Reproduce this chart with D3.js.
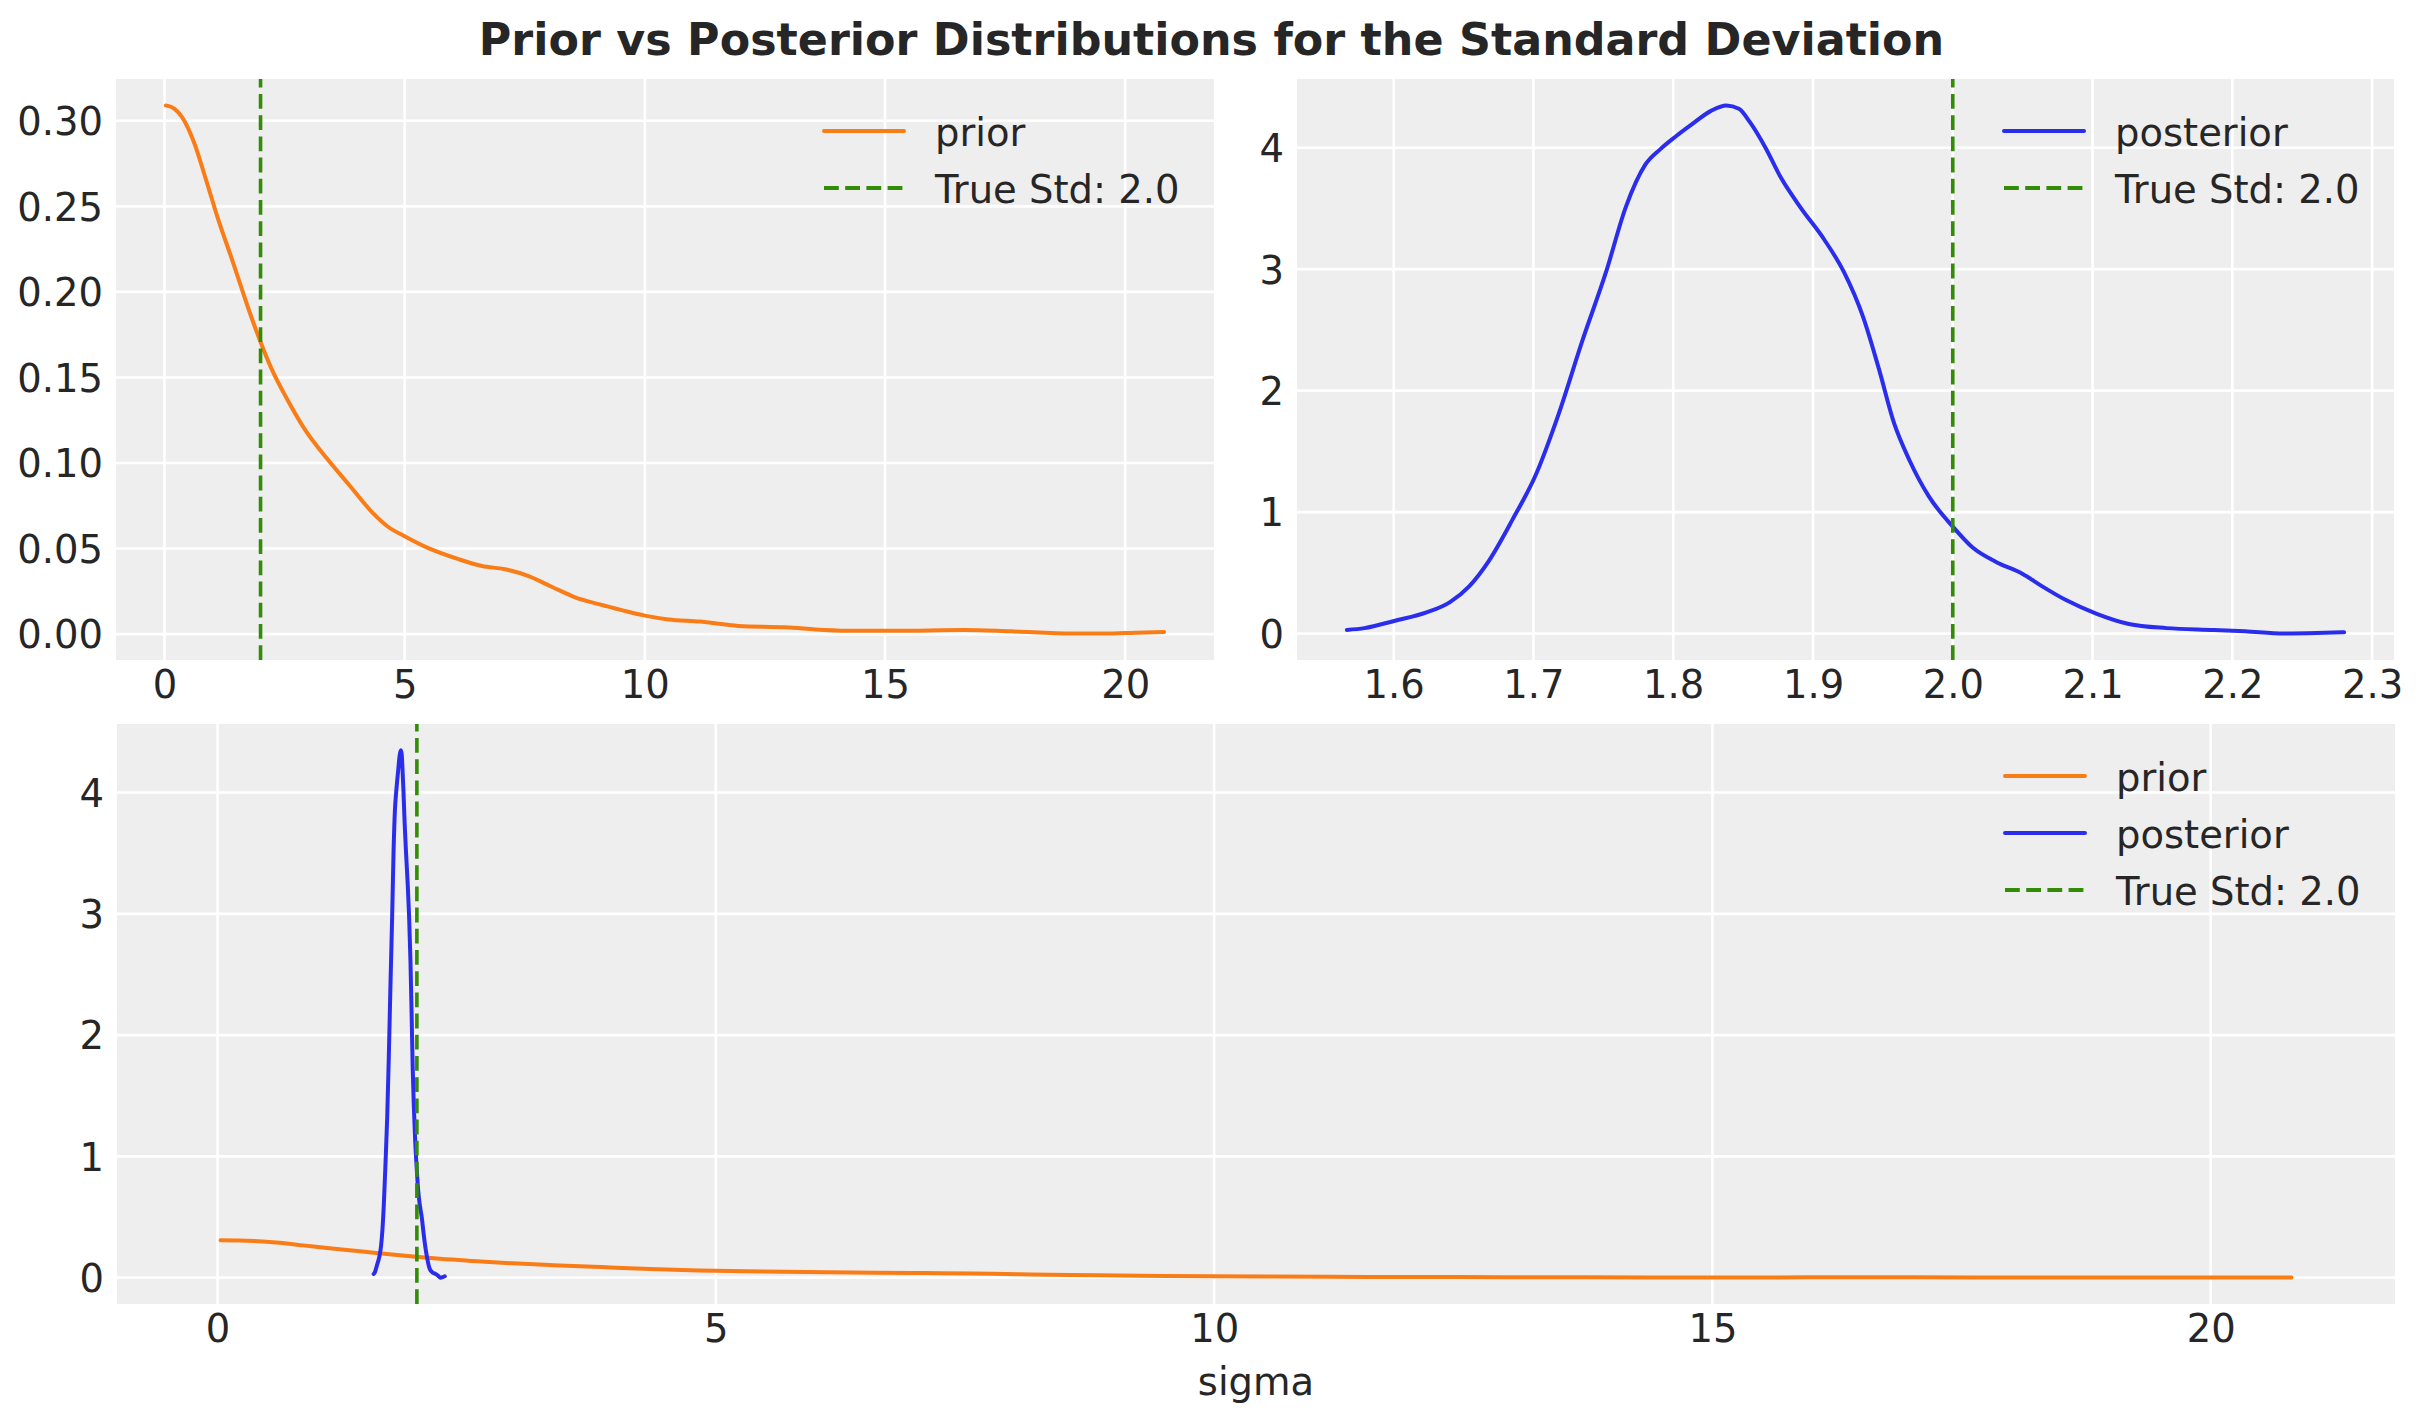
<!DOCTYPE html>
<html>
<head>
<meta charset="utf-8">
<script src="https://cdn.jsdelivr.net/npm/d3@7"></script>
<style>
  body { margin: 0; background: #fff; }
  svg { display: block; font-family: "DejaVu Sans", sans-serif; }
</style>
</head>
<body>
<div id="chart-area"></div>
<script>

// data
let priorX = [0.03, 0.21, 0.37, 0.62, 0.86, 1.1, 1.43, 1.75, 1.99, 2.23, 2.56, 2.96, 3.37, 3.85,
  4.34, 4.66, 4.99, 5.47, 6.12, 6.61, 7.09, 7.58, 8.06, 8.55, 9.04, 9.52, 10.0, 10.49, 11.14,
  11.95, 12.92, 13.73, 14.38, 15.19, 16.65, 17.62, 18.9, 19.56, 20.21, 20.81];
let priorY = [0.309, 0.307, 0.302, 0.287, 0.266, 0.244, 0.217, 0.190, 0.1715, 0.155, 0.137, 0.118,
  0.103, 0.087, 0.0707, 0.0626, 0.0573, 0.0505, 0.0438, 0.0398, 0.0379, 0.0339, 0.0277, 0.0215,
  0.0175, 0.014, 0.0108, 0.0086, 0.0073, 0.0048, 0.004, 0.0024, 0.0019, 0.0019, 0.0024, 0.0016,
  0.0003, 0.0003, 0.0008, 0.0013];

let postX = [1.5665, 1.579, 1.601, 1.6235, 1.640, 1.654, 1.668, 1.685, 1.702, 1.718, 1.735, 1.752,
  1.766, 1.780, 1.791, 1.802, 1.813, 1.827, 1.838, 1.847, 1.855, 1.866, 1.877, 1.891, 1.908, 1.922,
  1.936, 1.947, 1.958, 1.969, 1.983, 2.0, 2.014, 2.031, 2.050, 2.064, 2.081, 2.103, 2.126, 2.153,
  2.187, 2.209, 2.237, 2.260, 2.280];
let postY = [0.030, 0.045, 0.106, 0.174, 0.257, 0.389, 0.597, 0.938, 1.316, 1.807, 2.412, 2.979,
  3.509, 3.860, 3.990, 4.094, 4.189, 4.303, 4.348, 4.321, 4.208, 4.0, 3.754, 3.509, 3.244, 2.979,
  2.601, 2.185, 1.732, 1.427, 1.127, 0.881, 0.711, 0.590, 0.491, 0.389, 0.276, 0.163, 0.079, 0.045,
  0.030, 0.019, 0.0, 0.004, 0.011];

let trueStd = 2.0;

let priorXTicks = [0, 5, 10, 15, 20];
let priorYTicks = [0, 0.05, 0.10, 0.15, 0.20, 0.25, 0.30];
let postXTicks = [1.6, 1.7, 1.8, 1.9, 2.0, 2.1, 2.2, 2.3];
let postYTicks = [0, 1, 2, 3, 4];

let titleText = "Prior vs Posterior Distributions for the Standard Deviation";
let priorLabel = "prior",
    postLabel = "posterior",
    trueLabel = "True Std: " + trueStd.toFixed(1);

let width = 2423,
    height = 1423;

let colPrior = "#fa7c17",
    colPost = "#2a2eec",
    colTrue = "#328c06",
    textCol = "#262626",
    fontSize = 38.5;

let svg = d3.select("#chart-area").append("svg")
    .attr("width", width)
    .attr("height", height);

svg.append("text")
    .attr("x", width / 2)
    .attr("y", 55)
    .attr("text-anchor", "middle")
    .attr("font-size", 44.4)
    .attr("font-weight", "bold")
    .attr("fill", textCol)
    .text(titleText);

// matplotlib-like 5% padding around the data
function padded(values) {
  let ext = d3.extent(values);
  let m = (ext[1] - ext[0]) * 0.05;
  return [ext[0] - m, ext[1] + m];
}

function drawPanel(box, series, xTicks, yTicks, xFmt, yFmt, legend, xLabel) {
  let allX = [], allY = [];
  series.forEach(function(s) { allX = allX.concat(s.x); allY = allY.concat(s.y); });

  let x = d3.scaleLinear().domain(padded(allX)).range([box.x0, box.x1]);
  let y = d3.scaleLinear().domain(padded(allY)).range([box.y1, box.y0]);

  let g = svg.append("g");

  g.append("rect")
      .attr("x", box.x0).attr("y", box.y0)
      .attr("width", box.x1 - box.x0).attr("height", box.y1 - box.y0)
      .attr("fill", "#eeeeee");

  // grid
  g.selectAll(".gx").data(xTicks).enter().append("line")
      .attr("x1", d => x(d)).attr("x2", d => x(d))
      .attr("y1", box.y0).attr("y2", box.y1)
      .attr("stroke", "#fff").attr("stroke-width", 2.6);
  g.selectAll(".gy").data(yTicks).enter().append("line")
      .attr("x1", box.x0).attr("x2", box.x1)
      .attr("y1", d => y(d)).attr("y2", d => y(d))
      .attr("stroke", "#fff").attr("stroke-width", 2.6);

  // axes, no tick marks or spines
  let xAxis = g.append("g")
      .attr("transform", "translate(0," + box.y1 + ")")
      .call(d3.axisBottom(x).tickValues(xTicks).tickFormat(xFmt).tickSize(0).tickPadding(39 - 28));
  let yAxis = g.append("g")
      .attr("transform", "translate(" + box.x0 + ",0)")
      .call(d3.axisLeft(y).tickValues(yTicks).tickFormat(yFmt).tickSize(0).tickPadding(13));
  [xAxis, yAxis].forEach(function(a) {
    a.select(".domain").remove();
    a.selectAll("text")
        .attr("font-size", fontSize)
        .attr("font-family", "DejaVu Sans, sans-serif")
        .attr("fill", textCol);
  });
  yAxis.selectAll("text").attr("dy", "0.36em");

  let clipId = "clip" + Math.round(box.x0) + "_" + Math.round(box.y0);
  g.append("clipPath").attr("id", clipId).append("rect")
      .attr("x", box.x0).attr("y", box.y0)
      .attr("width", box.x1 - box.x0).attr("height", box.y1 - box.y0);

  let line = d3.line()
      .x(d => x(d[0]))
      .y(d => y(d[1]))
      .curve(d3.curveMonotoneX);

  series.forEach(function(s) {
    g.append("path")
        .datum(d3.zip(s.x, s.y))
        .attr("clip-path", "url(#" + clipId + ")")
        .attr("fill", "none")
        .attr("stroke", s.color)
        .attr("stroke-width", 4)
        .attr("stroke-linejoin", "round")
        .attr("stroke-linecap", "round")
        .attr("d", line);
  });

  // true std line, dashes start from the bottom like matplotlib
  g.append("line")
      .attr("x1", x(trueStd)).attr("x2", x(trueStd))
      .attr("y1", box.y1).attr("y2", box.y0)
      .attr("stroke", colTrue)
      .attr("stroke-width", 3.6)
      .attr("stroke-dasharray", "14.8,6.4");

  // legend
  let maxW = 243;
  let textX = box.x1 - 36 - maxW;
  let leg = g.selectAll(".leg").data(legend).enter().append("g")
      .attr("transform", (d, i) => "translate(0," + (box.y0 + 52 + i * 57) + ")");
  leg.append("line")
      .attr("x1", textX - 111).attr("x2", textX - 31)
      .attr("y1", 0).attr("y2", 0)
      .attr("stroke", d => d.color)
      .attr("stroke-width", 4)
      .attr("stroke-linecap", d => d.dash ? "butt" : "round")
      .attr("stroke-dasharray", d => d.dash ? "14.8,6.4" : null);
  leg.append("text")
      .attr("x", textX)
      .attr("y", 14.5)
      .attr("font-size", fontSize)
      .attr("fill", textCol)
      .text(d => d.label);

  if (xLabel) {
    g.append("text")
        .attr("x", (box.x0 + box.x1) / 2)
        .attr("y", 1395)
        .attr("text-anchor", "middle")
        .attr("font-size", fontSize)
        .attr("fill", textCol)
        .text(xLabel);
  }
}

let fmtInt = d3.format("d"),
    fmt1 = d3.format(".1f"),
    fmt2 = d3.format(".2f");

let priorSeries = { x: priorX, y: priorY, color: colPrior },
    postSeries = { x: postX, y: postY, color: colPost };

drawPanel({ x0: 116, x1: 1214, y0: 79, y1: 660 }, [priorSeries],
  priorXTicks, priorYTicks, fmtInt, fmt2,
  [{ label: priorLabel, color: colPrior }, { label: trueLabel, color: colTrue, dash: true }]);

drawPanel({ x0: 1297, x1: 2394, y0: 79, y1: 660 }, [postSeries],
  postXTicks, postYTicks, fmt1, fmtInt,
  [{ label: postLabel, color: colPost }, { label: trueLabel, color: colTrue, dash: true }]);

drawPanel({ x0: 117, x1: 2395, y0: 724, y1: 1304 }, [priorSeries, postSeries],
  priorXTicks, postYTicks, fmtInt, fmtInt,
  [{ label: priorLabel, color: colPrior }, { label: postLabel, color: colPost },
   { label: trueLabel, color: colTrue, dash: true }], "sigma");

</script>
</body>
</html>
